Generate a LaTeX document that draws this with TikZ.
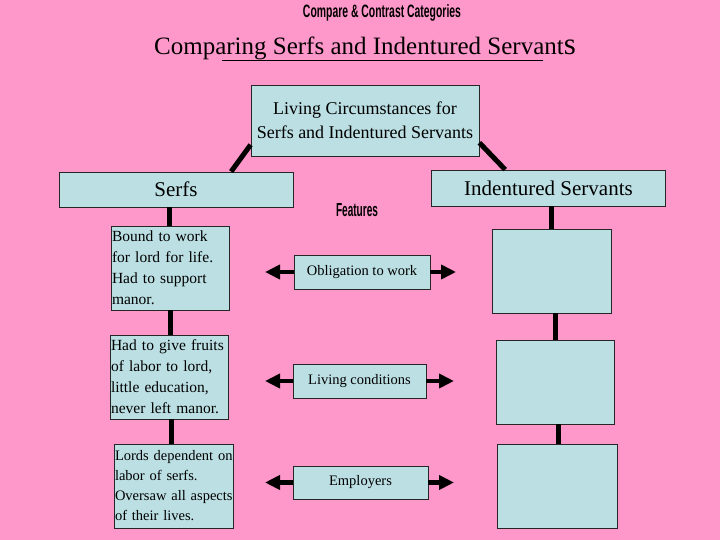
\documentclass[tikz,border=0pt]{standalone}
\usepackage{fontspec}
\setmainfont{Liberation Serif}
\newfontfamily\headfont{Liberation Sans}
\usepackage{tikz}
\usetikzlibrary{arrows.meta}

\definecolor{pinkbg}{RGB}{255,152,202}
\definecolor{boxblue}{RGB}{187,223,227}

\tikzset{
  box/.style={draw=black!85, fill=boxblue, line width=0.8pt, inner sep=1pt},
  link/.style={line width=5pt},
  pointer/.style={line width=4.5pt, -{Triangle[length=15pt,width=14pt]}}
}

\begin{document}
\begin{tikzpicture}[x=1pt,y=-1pt]
    \fill[pinkbg] (0,0) rectangle (720,540);
    \useasboundingbox (0,0) rectangle (720,540);

    % Headings
    \node (cat) at (382,13) {\resizebox{158pt}{13pt}{\headfont\bfseries Compare \& Contrast Categories}};
    \node[anchor=base] (title) at (365,55) {\fontsize{25}{30}\selectfont Comparing Serfs and Indentured Servant{\fontsize{31}{30}\selectfont s}};
    \draw[line width=0.8pt] (222,60) -- (543,60);

    % Top box
    \node[box, minimum width=228, minimum height=71, align=center, font=\fontsize{18}{24}\selectfont] (top) at (365,120.5)
        {Living Circumstances for\\Serfs and Indentured Servants};

    % Serfs side
    \node[box, minimum width=234, minimum height=35, font=\fontsize{21}{24}\selectfont] (serfs) at (176,189.5) {Serfs};
    \node[box, text width=116, minimum height=84, align=left, font=\fontsize{15.5}{21}\selectfont] (s1) at (170,268)
        {Bound to work\\for lord for life.\\Had to support\\manor.};
    \node[box, text width=116, minimum height=84, align=left, font=\fontsize{15.5}{21}\selectfont] (s2) at (169,377)
        {Had to give fruits\\of labor to lord,\\little education,\\never left manor.};
    \node[box, text width=117, minimum height=84, align=left, font=\fontsize{14.5}{20}\selectfont] (s3) at (173.5,486)
        {\mbox{Lords dependent on}\\\mbox{labor of serfs.}\\\mbox{Oversaw all aspects}\\\mbox{of their lives.}};

    % Indentured servants side
    \node[box, minimum width=234, minimum height=36, font=\fontsize{21}{24}\selectfont] (ind) at (548.5,188) {Indentured Servants};
    \node[box, minimum width=119, minimum height=84] (r1) at (551.5,271) {};
    \node[box, minimum width=118, minimum height=84] (r2) at (555,382) {};
    \node[box, minimum width=120, minimum height=84] (r3) at (557,486) {};

    % Features
    \node (feat) at (357,210) {\resizebox{42pt}{13pt}{\headfont\bfseries Features}};
    \node[box, minimum width=136, minimum height=34, font=\fontsize{14.5}{18}\selectfont] (f1) at (362,272) {Obligation to work};
    \node[box, minimum width=133, minimum height=34, font=\fontsize{14.5}{18}\selectfont] (f2) at (359.5,381) {Living conditions};
    \node[box, minimum width=135, minimum height=33, font=\fontsize{14.5}{18}\selectfont] (f3) at (360.5,482.5) {Employers};

    \coordinate (f1l) at (265,272);
    \coordinate (f1r) at (456,272);
    \coordinate (f2l) at (265,381);
    \coordinate (f2r) at (454,381);
    \coordinate (f3l) at (265,482.5);
    \coordinate (f3r) at (454,482.5);

    % Connectors
    \draw[link] (top.192) -- (serfs.18);
    \draw[link] (top.-11) -- (ind.157);
    \draw[link] (serfs.south -| s1.north) ++(-1,0) -- (s1.north -| 169,0);
    \draw[link] (s1.south) -- (s2.north -| s1.south);
    \draw[link] (s2.south -| 171,0) -- (s3.north -| 171,0);
    \draw[link] (ind.south -| r1.north) -- (r1.north);
    \draw[link] (r1.south -| 555,0) -- (r2.north -| 555,0);
    \draw[link] (r2.south -| 558,0) -- (r3.north -| 558,0);

    \draw[pointer] (f1.west) -- (f1l);
    \draw[pointer] (f1.east) -- (f1r);
    \draw[pointer] (f2.west) -- (f2l);
    \draw[pointer] (f2.east) -- (f2r);
    \draw[pointer] (f3.west) -- (f3l);
    \draw[pointer] (f3.east) -- (f3r);
\end{tikzpicture}
\end{document}
